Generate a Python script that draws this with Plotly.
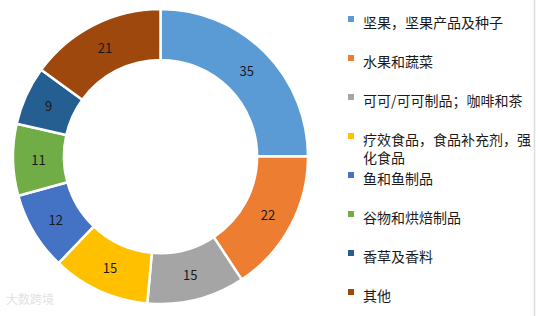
import plotly.graph_objects as go

labels = ["坚果，坚果产品及种子", "水果和蔬菜", "可可/可可制品；咖啡和茶",
          "疗效食品，食品补充剂，强<br>化食品", "鱼和鱼制品", "谷物和烘焙制品",
          "香草及香料", "其他"]
values = [35, 22, 15, 15, 12, 11, 9, 21]
colors = ["#5B9BD5", "#ED7D31", "#A5A5A5", "#FFC000", "#4472C4", "#70AD47",
          "#255E91", "#9E480E"]

W, H = 536, 316
FONT = "Noto Sans CJK SC, Microsoft YaHei, sans-serif"

fig = go.Figure(go.Pie(
    labels=labels, values=values, hole=0.655, sort=False,
    direction="clockwise", rotation=0,
    marker=dict(colors=colors, line=dict(color="white", width=2.5)),
    textinfo="value", textposition="inside", insidetextorientation="horizontal",
    textfont=dict(family=FONT, size=13, color="#1a1a1a"),
    domain=dict(x=[13 / W, 308 / W], y=[(H - 304) / H, (H - 9) / H]),
    showlegend=False, hoverinfo="label+value",
))

shapes = []
annotations = []
y0, step = 19, 39
for i, (lab, col) in enumerate(zip(labels, colors)):
    yc = y0 + i * step
    shapes.append(dict(type="rect", xref="paper", yref="paper",
                       x0=348 / W, x1=354 / W,
                       y0=(H - yc - 3) / H, y1=(H - yc + 3) / H,
                       fillcolor=col, line=dict(width=0)))
    annotations.append(dict(x=361 / W, y=(H - yc + 9) / H, xref="paper", yref="paper",
                            text=lab, showarrow=False, xanchor="left", yanchor="top",
                            align="left",
                            font=dict(family=FONT, size=14, color="#1a1a1a")))

# right border line
shapes.append(dict(type="line", xref="paper", yref="paper", x0=534.5 / W, x1=534.5 / W,
                   y0=0, y1=1, line=dict(color="#dcdcdc", width=1.5)))

annotations.append(dict(x=4 / W, y=(H - 298) / H, xref="paper", yref="paper",
                        text="大数跨境", showarrow=False, xanchor="left", yanchor="middle",
                        font=dict(family=FONT, size=12, color="#e2e2e2")))

fig.update_layout(
    width=W, height=H, margin=dict(l=0, r=0, t=0, b=0),
    paper_bgcolor="white", plot_bgcolor="white",
    shapes=shapes, annotations=annotations,
)
fig.write_html("out.html")
